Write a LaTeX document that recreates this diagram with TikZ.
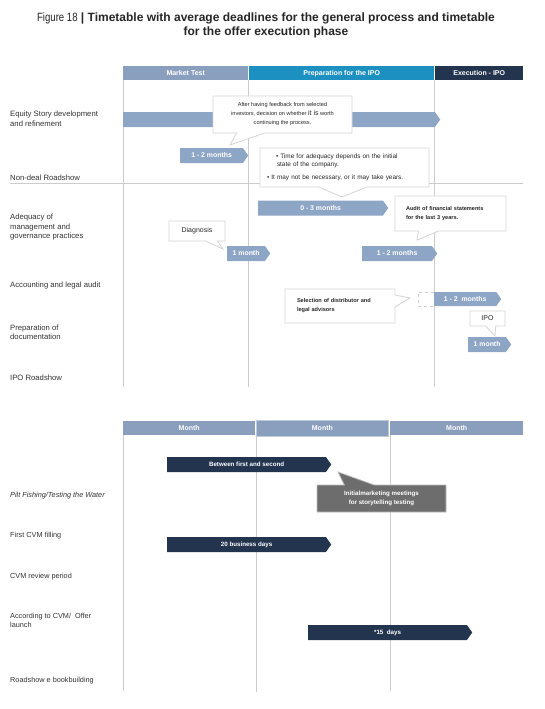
\documentclass[tikz,border=0pt]{standalone}
\usepackage{fontspec}
\setmainfont{Liberation Sans}
\usetikzlibrary{positioning, shapes.arrows, shapes.callouts}
\definecolor{hdgray}{HTML}{8A9FBE}
\definecolor{hdblue}{HTML}{1C90C0}
\definecolor{hdnavy}{HTML}{23344E}
\definecolor{barblue}{HTML}{8EA6C6}
\definecolor{callgray}{HTML}{6D6D6D}
\definecolor{gridln}{HTML}{CCCCCC}
\definecolor{boxln}{HTML}{D5D5D5}
\definecolor{txt}{HTML}{333333}

\begin{document}
\begin{tikzpicture}[x=1pt, y=-1pt,
  hd/.style={fill=hdgray, text=white, font=\bfseries\fontsize{7}{8}\selectfont, minimum height=14pt, inner sep=0pt, anchor=north west},
  lb/.style={anchor=west, align=left, text=txt, inner sep=0pt, font=\fontsize{7.7}{9.5}\selectfont},
  lbb/.style={lb, font=\fontsize{7.3}{9}\selectfont},
  ar/.style={signal, signal to=east, signal pointer angle=110, fill=barblue, text=white, font=\bfseries\fontsize{6.9}{8}\selectfont, minimum height=15pt, inner sep=0pt, anchor=west},
  dk/.style={ar, fill=hdnavy, font=\bfseries\fontsize{6.2}{7}\selectfont},
  co/.style={rectangle callout, draw=boxln, line width=0.8pt, fill=white, text=black!85, inner sep=0pt, font=\fontsize{5.6}{9}\selectfont},
  gl/.style={draw=gridln, line width=0.7pt}]
  \fill[white] (0,0) rectangle (545,709);
  \useasboundingbox (0,0) rectangle (545,709);
  \node[font=\bfseries\fontsize{12}{14}\selectfont, text=black!85, align=center] (ttl) at (266,25.5) {{\mdseries\scalebox{0.8}[1]{Figure 18}} | Timetable with average deadlines for the general process and timetable\\for the offer execution phase};
  \node[hd, minimum width=125pt] (mt) at (123,66) {Market Test};
  \node[hd, fill=hdblue, minimum width=185pt] (pr) at (249,66) {Preparation for the IPO};
  \node[hd, fill=hdnavy, minimum width=88pt] (ex) at (435,66) {Execution - IPO};
  \draw[gl] (mt.south west) -- ++(0,307);
  \draw[gl] (mt.south east) -- ++(0,307);
  \draw[gl] (pr.south east) -- ++(0,307);
  \draw[gl] (10,183) -- (523,183);
  \node[lb] (l1) at (10,118.5) {Equity Story development\\and refinement};
  \node[lb] (l2) at (10,178) {Non-deal Roadshow};
  \node[lb] (l3) at (10,227.5) {Adequacy of\\management and\\governance practices};
  \node[lb] (l4) at (10,286) {Accounting and legal audit};
  \node[lb] (l5) at (10,332) {Preparation of\\documentation};
  \node[lb] (l6) at (10,378) {IPO Roadshow};
  \node[ar, minimum width=317pt] (eq) at (123,119.5) {};
  \node[ar, minimum width=68pt] (a1) at (180,155.5) {1 - 2 months};
  \node[ar, minimum width=130pt] (a2) at (258,208) {0 - 3 months};
  \node[ar, minimum width=43pt] (a3) at (227,253.5) {1 month};
  \node[ar, minimum width=75pt] (a4) at (362,253.5) {1 - 2 months};
  \node[draw=gridln, dashed, minimum width=16pt, minimum height=14pt, inner sep=0pt, anchor=north west] (dsh) at (418,292) {};
  \node[ar, minimum width=67pt, minimum height=14pt] (a5) at (434,299) {1 - 2\ \ months};
  \node[ar, minimum width=43pt] (a6) at (468,344.5) {1 month};
  \node[co, align=center, minimum width=139pt, minimum height=37pt, callout absolute pointer={(230,145)}, callout pointer width=28pt] (c1) at (282.5,114.5) {After having feedback from selected\\investors, decision on whether {\fontsize{7}{9}\selectfont it is} worth\\continuing the process.};
  \node[co, align=left, font=\fontsize{6.4}{8}\selectfont, text width=155pt, inner xsep=7pt, minimum height=39pt, callout absolute pointer={(342,197)}, callout pointer width=48pt] (c2) at (344.5,167.5) {\hspace*{9pt}• Time for adequacy depends on the initial\\\hspace*{10pt}state of the company.\\[4.5pt]• It may not be necessary, or it may take years.};
  \node[co, align=center, font=\fontsize{7}{8}\selectfont, minimum width=56pt, minimum height=20pt, callout absolute pointer={(223,249)}, callout pointer width=12pt] (c3) at (197,231) {Diagnosis};
  \node[co, align=left, font=\bfseries\fontsize{5.6}{9}\selectfont, text width=89pt, inner xsep=11pt, minimum height=35pt, callout absolute pointer={(417,240)}, callout pointer width=20pt] (c4) at (450.5,213.5) {Audit of financial statements\\for the last 3 years.};
  \node[co, align=left, font=\bfseries\fontsize{5.6}{9}\selectfont, text width=86pt, inner xsep=12pt, minimum height=34pt, callout absolute pointer={(410,298)}, callout pointer width=12pt] (c5) at (340,306) {Selection of distributor and\\legal advisors};
  \node[co, align=center, font=\fontsize{7}{8}\selectfont, minimum width=35pt, minimum height=15pt, callout absolute pointer={(495,336)}, callout pointer width=10pt] (c6) at (487.5,318.5) {IPO};
  \node[hd, minimum width=132pt] (m1) at (123,421) {Month};
  \node[hd, draw=hdgray!55, line width=0.8pt, minimum width=132pt, minimum height=16pt] (m2) at (256,420) {\raisebox{-1.5pt}{Month}};
  \node[hd, minimum width=133pt] (m3) at (390,421) {\raisebox{-1.5pt}{Month}};
  \draw[gl] (m1.south west) -- ++(0,256);
  \draw[gl] (m2.south west) -- ++(0,255);
  \draw[gl] (m3.south west) -- ++(0,256);
  \node[lbb, font=\itshape\fontsize{7.3}{9}\selectfont] (l7) at (10,496) {Pilt Fishing/Testing the Water};
  \node[lbb] (l8) at (10,536) {First CVM filling};
  \node[lbb] (l9) at (10,577) {CVM review period};
  \node[lbb] (l10) at (10,620.5) {According to CVM/\ \ Offer\\launch};
  \node[lbb] (l11) at (10,681) {Roadshow e bookbuilding};
  \node[dk, minimum width=164pt] (b1) at (167,464.5) {Between first and second};
  \node[dk, minimum width=164pt] (b2) at (167,544.5) {\raisebox{-2pt}{20 business days}};
  \node[dk, minimum width=164pt] (b3) at (308,632.5) {*15\ \ days};
  \node[co, fill=callgray, draw=black!25, text=white, align=center, font=\bfseries\fontsize{6.2}{9}\selectfont, minimum width=129pt, minimum height=27pt, callout absolute pointer={(338,472)}, callout pointer width=30pt] (c7) at (381.5,498.5) {Initialmarketing meetings\\for storytelling testing};
\end{tikzpicture}
\end{document}
